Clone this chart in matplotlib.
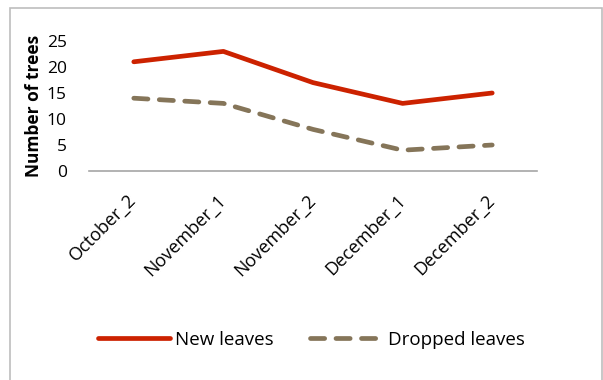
import matplotlib
matplotlib.use("Agg")
import matplotlib.pyplot as plt
from matplotlib.patches import Rectangle
from matplotlib.lines import Line2D

periods = ["October_2", "November_1", "November_2", "December_1", "December_2"]
new_leaves = [21, 23, 17, 13, 15]
dropped_leaves = [14, 13, 8, 4, 5]
y_ticks = [0, 5, 10, 15, 20, 25]

plt.rcParams['font.family'] = ['Open Sans', 'DejaVu Sans']

W, H = 603, 380
fig = plt.figure(figsize=(W / 100, H / 100), dpi=100)

# chart frame
frame = Rectangle((9.5 / W, -0.05), (602 - 9.5) / W, (H - 7.5) / H + 0.05,
                  transform=fig.transFigure, fill=False, edgecolor='#bdbdbd',
                  linewidth=1.2)
fig.patches.append(frame)

ax = fig.add_axes([89 / W, (H - 171) / H, 448 / W, 130 / H])
x = list(range(len(periods)))

red = '#cc2200'
tan = '#857559'
ax.plot(x, new_leaves, color=red, linewidth=3.4, solid_capstyle='round',
        solid_joinstyle='round')
ax.plot(x, dropped_leaves, color=tan, linewidth=3.4, dashes=(3.0, 2.4),
        dash_capstyle='round', dash_joinstyle='round')

ax.set_xlim(-0.5, len(periods) - 0.5)
ax.set_ylim(0, 25)
ax.set_yticks(y_ticks)
ax.set_yticklabels([str(v) for v in y_ticks], fontsize=12.5)
ax.set_xticks(x)
ax.set_xticklabels(periods, fontsize=13, rotation=45, ha='right',
                   va='center', rotation_mode='anchor')
ax.tick_params(axis='x', length=0, pad=19)
ax.tick_params(axis='y', length=0, pad=16)

for s in ['top', 'right', 'left']:
    ax.spines[s].set_visible(False)
ax.spines['bottom'].set_color('#a6a6a6')
ax.spines['bottom'].set_linewidth(1.2)

ax.set_ylabel("Number of trees", fontsize=12.5, fontweight='bold', labelpad=3)

handles = [
    Line2D([], [], color=red, linewidth=3.4, solid_capstyle='round'),
    Line2D([], [], color=tan, linewidth=3.4, dashes=(3.0, 2.4),
           dash_capstyle='round'),
]
fig.legend(handles, ["New leaves", "Dropped leaves"], loc='center',
           bbox_to_anchor=(311 / W, 1 - 340 / H), ncol=2, frameon=False,
           fontsize=13.5, handlelength=3.85, handletextpad=0.3,
           columnspacing=1.9)

fig.savefig("out.png", dpi=100)
